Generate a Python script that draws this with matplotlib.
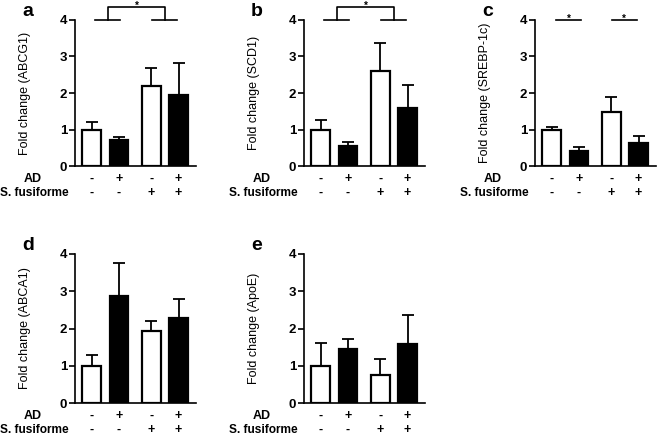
import matplotlib.pyplot as plt
import numpy as np

plt.rcParams['font.family'] = ['Liberation Sans', 'DejaVu Sans']
plt.rcParams['font.weight'] = 'bold'

# groups: AD / S. fusiforme treatment
ad_signs = ['-', '+', '-', '+']
sf_signs = ['-', '-', '+', '+']
pos = [0, 1, 2.2, 3.2]
colors = ['white', 'black', 'white', 'black']

genes = ['ABCG1', 'SCD1', 'SREBP-1c', 'ABCA1', 'ApoE']
letters = ['a', 'b', 'c', 'd', 'e']

abcg1 = [1.00, 0.70, 2.20, 1.95]
abcg1_err = [0.20, 0.10, 0.48, 0.87]
scd1 = [1.00, 0.55, 2.60, 1.60]
scd1_err = [0.25, 0.10, 0.77, 0.62]
srebp = [1.00, 0.42, 1.47, 0.62]
srebp_err = [0.07, 0.11, 0.43, 0.20]
abca1 = [1.00, 2.87, 1.92, 2.28]
abca1_err = [0.29, 0.89, 0.29, 0.52]
apoe = [1.00, 1.45, 0.74, 1.58]
apoe_err = [0.62, 0.26, 0.45, 0.78]

means = [abcg1, scd1, srebp, abca1, apoe]
errs = [abcg1_err, scd1_err, srebp_err, abca1_err, apoe_err]

# axes boxes in pixels (left, top of y=4, y=0)
W, H = 657, 436
lefts = [75, 304, 535, 75, 304]
tops = [20, 20, 20, 254, 254]
bottoms = [166, 166, 166, 403, 403]
ax_w = 121

fig = plt.figure(figsize=(W / 100, H / 100), dpi=100)

for i in range(5):
    ax = fig.add_axes([lefts[i] / W, 1 - bottoms[i] / H, ax_w / W,
                       (bottoms[i] - tops[i]) / H])
    ax.bar(pos, means[i], width=0.68, color=colors, edgecolor='black',
           linewidth=1.6, zorder=3)
    ax.errorbar(pos, means[i], yerr=[np.zeros(4), errs[i]], fmt='none',
                ecolor='black', elinewidth=1.3, capsize=4.5, capthick=1.3,
                zorder=2)
    ax.set_xlim(-0.614, 3.843)
    ax.set_ylim(0, 4)
    ax.set_yticks([0, 1, 2, 3, 4])
    ax.tick_params(axis='y', direction='out', length=4, width=1.2,
                   labelsize=9.5, pad=1.5)
    ax.tick_params(axis='x', length=0, labelbottom=False)
    for s in ['top', 'right']:
        ax.spines[s].set_visible(False)
    for s in ['left', 'bottom']:
        ax.spines[s].set_linewidth(1.2)
    ax.set_ylabel('Fold change (%s)' % genes[i], fontsize=9)
    ax.yaxis.set_label_coords(-0.36, 0.5)

    for x, a, s in zip(pos, ad_signs, sf_signs):
        ax.annotate(a, (x, 0), xycoords=('data', 'axes fraction'),
                    xytext=(0, -9), textcoords='offset points',
                    ha='center', va='center', fontsize=9)
        ax.annotate(s, (x, 0), xycoords=('data', 'axes fraction'),
                    xytext=(0, -19.5), textcoords='offset points',
                    ha='center', va='center', fontsize=9)
    ax.annotate('AD', (-0.35, 0), xycoords='axes fraction',
                xytext=(0, -9), textcoords='offset points',
                ha='center', va='center', fontsize=9)
    ax.annotate('S. fusiforme', (-0.055, 0), xycoords='axes fraction',
                xytext=(0, -19.5), textcoords='offset points',
                ha='right', va='center', fontsize=8.6)

    fig.text(lefts[i] / W - 0.072, 1 - (tops[i] - 8) / H, letters[i],
             fontsize=14, ha='center', va='center')

    if i in (0, 1):
        ax.plot([0.12, 1.06], [4, 4], color='black', lw=1.2, clip_on=False)
        ax.plot([2.22, 3.14], [4, 4], color='black', lw=1.2, clip_on=False)
        ax.plot([0.61, 0.61, 2.70, 2.70], [4, 4.36, 4.36, 4],
                color='black', lw=1.2, clip_on=False)
        ax.text(1.655, 4.30, '*', ha='center', va='baseline', fontsize=7)
    if i == 2:
        for x0, x1 in [(0.16, 1.07), (2.21, 3.13)]:
            ax.plot([x0, x1], [4, 4], color='black', lw=1.2, clip_on=False)
            ax.text((x0 + x1) / 2, 3.96, '*', ha='center', va='baseline',
                    fontsize=7)

plt.savefig('out.png', dpi=100)
